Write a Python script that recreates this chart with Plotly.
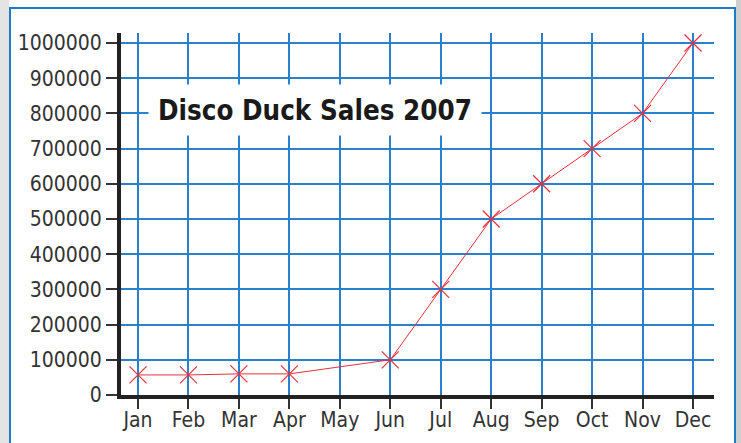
import plotly.graph_objects as go

months = ["Jan", "Feb", "Mar", "Apr", "May", "Jun", "Jul", "Aug", "Sep", "Oct", "Nov", "Dec"]
sales = [57000, 57000, 60000, 60000, None, 100000, 300000, 500000, 600000, 700000, 800000, 1000000]
y_ticks = [0, 100000, 200000, 300000, 400000, 500000, 600000, 700000, 800000, 900000, 1000000]
y_labels = ["0", "100000", "200000", "300000", "400000", "500000", "600000", "700000", "800000", "900000", "1000000"]
title_text = "Disco Duck Sales 2007"

W, H = 741, 443
L, R, T, B = 121, 714, 33, 395
pw, ph = R - L, B - T

def px(x):
    return (x - L) / pw

def py(y):
    return (B - y) / ph

label_font = dict(family="DejaVu Sans Condensed, sans-serif", size=21, color="#333333")

fig = go.Figure()
fig.add_trace(go.Scatter(
    x=list(range(len(months))), y=sales, mode="lines+markers", connectgaps=True,
    line=dict(color="#e8303a", width=1),
    marker=dict(symbol="x-thin", size=17, line=dict(color="#e8303a", width=1.2)),
    hoverinfo="skip", showlegend=False,
))

fig.update_layout(
    width=W, height=H, autosize=False,
    margin=dict(l=L, r=W - R, t=T, b=H - B, pad=0, autoexpand=False),
    paper_bgcolor="white", plot_bgcolor="white",
    xaxis=dict(
        range=[-0.337, 11.416], tickmode="array", tickvals=list(range(len(months))), ticktext=months,
        showgrid=True, gridcolor="#2a80cc", gridwidth=1.5,
        showline=True, linecolor="#222222", linewidth=3.5,
        ticks="outside", ticklen=10, tickwidth=1.5, tickcolor="#333333",
        tickfont=label_font, zeroline=False, fixedrange=True, automargin=False,
        ticklabelstandoff=-7,
    ),
    yaxis=dict(
        range=[0, 1028300], tickmode="array", tickvals=y_ticks, ticktext=y_labels,
        showgrid=True, gridcolor="#2a80cc", gridwidth=1.5,
        showline=True, linecolor="#222222", linewidth=4,
        ticks="outside", ticklen=11, tickwidth=1.5, tickcolor="#333333",
        tickfont=label_font, zeroline=False, fixedrange=True, automargin=False,
    ),
    shapes=[
        dict(type="rect", xref="paper", yref="paper", x0=px(0), x1=px(9), y0=py(460), y1=py(0),
             fillcolor="#e4e4e4", line=dict(width=0), layer="below"),
        dict(type="rect", xref="paper", yref="paper", x0=px(736), x1=px(741), y0=py(460), y1=py(0),
             fillcolor="#cfcfcf", line=dict(width=0), layer="below"),
        dict(type="rect", xref="paper", yref="paper", x0=px(10), x1=px(735), y0=py(470), y1=py(8),
             line=dict(color="#1f7bc8", width=2), fillcolor="rgba(0,0,0,0)"),
    ],
    annotations=[
        dict(text="<b>" + title_text + "</b>", xref="paper", yref="paper", x=px(315), y=py(110),
             xanchor="center", yanchor="middle", showarrow=False,
             font=dict(family="DejaVu Sans Condensed, sans-serif", size=27.5, color="#1a1a1a"),
             bgcolor="white", borderpad=9),
    ],
)

fig.write_html("out.html")
